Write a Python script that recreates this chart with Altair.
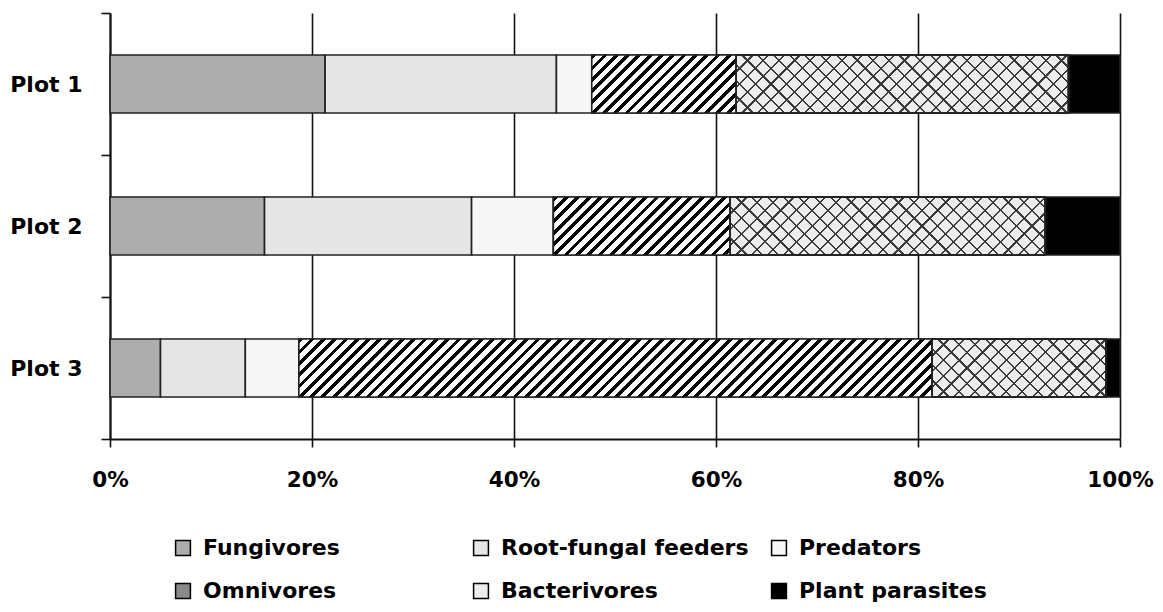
import altair as alt
import pandas as pd

plots = ["Plot 1", "Plot 2", "Plot 3"]
groups = ["Fungivores", "Root-fungal feeders", "Predators", "Omnivores",
          "Bacterivores", "Plant parasites"]
fungivores = [21.3, 15.3, 5.0]
root_fungal = [22.9, 20.5, 8.4]
predators = [3.5, 8.1, 5.3]
omnivores = [14.3, 17.5, 62.7]
bacterivores = [32.9, 31.2, 17.2]
plant_parasites = [5.1, 7.4, 1.4]
x_ticks = [0, 20, 40, 60, 80, 100]

series = [fungivores, root_fungal, predators, omnivores, bacterivores, plant_parasites]
fills = ["#adadad", "#e6e6e6", "#f7f7f7", "#8a8a8a", "#ededed", "#000000"]

rows = []
for i, p in enumerate(plots):
    total = sum(s[i] for s in series)
    start = 0.0
    for g, s in zip(groups, series):
        v = s[i] / total * 100
        rows.append({"plot": p, "group": g, "start": start, "end": start + v,
                     "order": groups.index(g)})
        start += v
df = pd.DataFrame(rows)

W, H = 1010, 426
BAR_H = 58
FONT = "DejaVu Sans"


def stripes(w, h, period, dark, light, frac, direction):
    span = w + h
    c = span / (w * w + h * h)
    stops = []
    k = 0
    while k * period < span:
        a = k * period / span
        b = min((k + frac) * period / span, 1)
        e = min((k + 1) * period / span, 1)
        stops += [{"offset": a, "color": dark}, {"offset": b, "color": dark},
                  {"offset": b, "color": light}, {"offset": e, "color": light}]
        k += 1
    if direction == "/":
        x1, y1, x2, y2 = 0, 0, c * w, c * h
    else:
        x1, y1, x2, y2 = 0, 1, c * w, 1 - c * h
    return {"gradient": "linear", "x1": x1, "y1": y1, "x2": x2, "y2": y2,
            "stops": stops}


xenc = alt.X("start:Q", scale=alt.Scale(domain=[0, 100], nice=False),
             axis=alt.Axis(values=x_ticks, labelExpr="datum.value + '%'",
                           title=None, grid=True, gridColor="#111",
                           gridWidth=1.6, gridOpacity=1, tickSize=8,
                           tickColor="#111", tickWidth=1.6,
                           domainColor="#111", domainWidth=2,
                           labelFlush=False,
                           labelFont=FONT, labelFontWeight="bold",
                           labelFontSize=21.5, labelColor="#000",
                           labelPadding=22))
yenc = alt.Y("plot:N", sort=plots,
             scale=alt.Scale(paddingInner=0, paddingOuter=0),
             axis=alt.Axis(title=None, tickBand="extent", tickSize=9,
                           tickColor="#111", tickWidth=1.6,
                           domainColor="#111", domainWidth=2,
                           labelFont=FONT, labelFontWeight="bold",
                           labelFontSize=22, labelColor="#000",
                           labelPadding=19))

base = alt.Chart(df).mark_bar(stroke="#222", strokeWidth=1.6, height=BAR_H).encode(
    x=xenc,
    x2="end:Q",
    y=yenc,
    color=alt.Color("group:N", sort=groups,
                    scale=alt.Scale(domain=groups, range=fills),
                    legend=alt.Legend(title=None, orient="none", legendX=62,
                                      legendY=524, direction="horizontal",
                                      columns=3, gridAlign="all",
                                      columnPadding=19, rowPadding=21,
                                      symbolType="square", symbolSize=220,
                                      symbolStrokeColor="#000",
                                      symbolStrokeWidth=1.5,
                                      symbolOffset=0, padding=0,
                                      labelLimit=0,
                                      labelFont=FONT, labelFontWeight="bold",
                                      labelFontSize=22, labelColor="#000",
                                      labelOffset=9)),
    order=alt.Order("order:Q"),
)

layers = [base]
for i, p in enumerate(plots):
    for g, specs in [("Omnivores", [(11.3, "#000", "#fff", 0.42, "/")]),
                     ("Bacterivores", [(15.7, "#3a3a3a", "rgba(255,255,255,0)", 0.14, "/"),
                                       (15.7, "#3a3a3a", "rgba(255,255,255,0)", 0.14, "\\")])]:
        row = df[(df["plot"] == p) & (df["group"] == g)].iloc[0]
        w = (row["end"] - row["start"]) / 100 * W
        for (period, dark, light, frac, d) in specs:
            layers.append(
                alt.Chart(df).transform_filter(
                    (alt.datum.plot == p) & (alt.datum.group == g)
                ).mark_bar(fill=stripes(w, BAR_H, period, dark, light, frac, d),
                           stroke="#222", strokeWidth=1.6, height=BAR_H).encode(
                    x=alt.X("start:Q"), x2="end:Q", y=alt.Y("plot:N", sort=plots))
            )

chart = alt.layer(*layers).properties(
    width=W, height=H,
    autosize=alt.AutoSizeParams(type="none"),
    padding={"left": 102, "top": 5, "right": 35, "bottom": 165},
    background="white",
).configure_view(stroke=None)

chart.save("out.html", embed_options={"renderer": "svg", "actions": False})
